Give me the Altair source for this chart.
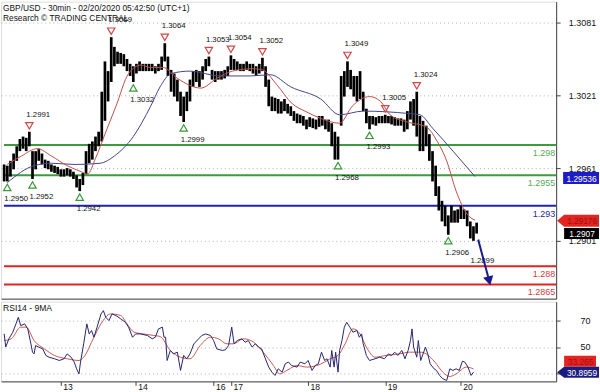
import altair as alt
import pandas as pd

FONT = "Liberation Sans"
FS = 9

# ---------------- data ----------------
title_lines = ["GBP/USD - 30min - 02/20/2020 05:42:50 (UTC+1)", "Research \u00a9 TRADING CENTRAL"]
rsi_title = "RSI14 - 9MA"

# every second 30-min bar (bar index 2, 4, ... 302): high / low prices
candle_hi = [
    1.2964, 1.2963, 1.2967, 1.2973, 1.2979, 1.2985, 1.2987, 1.2986, 1.2991, 1.2975,
    1.2975, 1.2977, 1.2973, 1.2968, 1.2967, 1.2964, 1.2963, 1.2962, 1.2960, 1.2960,
    1.2961, 1.2960, 1.2958, 1.2955, 1.2952, 1.2957, 1.2975, 1.2981, 1.2983, 1.2987,
    1.2991, 1.3024, 1.3049, 1.3041, 1.3069, 1.3061, 1.3057, 1.3056, 1.3055, 1.3051,
    1.3047, 1.3045, 1.3047, 1.3049, 1.3047, 1.3047, 1.3047, 1.3047, 1.3045, 1.3047,
    1.3053, 1.3064, 1.3053, 1.3042, 1.3039, 1.3034, 1.3024, 1.3020, 1.3024, 1.3034,
    1.3041, 1.3042, 1.3041, 1.3045, 1.3051, 1.3053, 1.3042, 1.3041, 1.3041, 1.3041,
    1.3042, 1.3045, 1.3054, 1.3051, 1.3049, 1.3047, 1.3047, 1.3049, 1.3047, 1.3047,
    1.3045, 1.3047, 1.3052, 1.3045, 1.3034, 1.3020, 1.3019, 1.3018, 1.3016, 1.3018,
    1.3014, 1.3012, 1.3008, 1.3006, 1.3005, 1.3004, 1.3001, 1.3003, 1.3002, 1.3001,
    1.3004, 1.3004, 1.3001, 1.3001, 1.2998, 1.2991, 1.2987, 1.3037, 1.3041, 1.3049,
    1.3042, 1.3037, 1.3037, 1.3041, 1.3024, 1.3010, 1.3004, 1.3004, 1.3003, 1.3004,
    1.3004, 1.3005, 1.3004, 1.3004, 1.3003, 1.3002, 1.3002, 1.3001, 1.3008, 1.3016,
    1.3018, 1.3024, 1.3004, 1.3000, 1.2996, 1.2989, 1.2975, 1.2963, 1.2946, 1.2934,
    1.2930, 1.2922, 1.2930, 1.2926, 1.2927, 1.2930, 1.2927, 1.2926, 1.2917, 1.2913,
    1.2916,
]
candle_lo = [
    1.2950, 1.2950, 1.2954, 1.2960, 1.2967, 1.2975, 1.2977, 1.2975, 1.2979, 1.2952,
    1.2960, 1.2967, 1.2964, 1.2961, 1.2960, 1.2958, 1.2957, 1.2956, 1.2954, 1.2954,
    1.2955, 1.2954, 1.2952, 1.2945, 1.2942, 1.2947, 1.2956, 1.2965, 1.2968, 1.2975,
    1.2979, 1.2983, 1.3000, 1.3016, 1.3032, 1.3045, 1.3047, 1.3047, 1.3045, 1.3041,
    1.3037, 1.3032, 1.3039, 1.3041, 1.3041, 1.3041, 1.3041, 1.3041, 1.3039, 1.3041,
    1.3042, 1.3049, 1.3037, 1.3024, 1.3020, 1.3016, 1.3004, 1.2999, 1.3008, 1.3016,
    1.3028, 1.3032, 1.3028, 1.3034, 1.3041, 1.3045, 1.3034, 1.3032, 1.3034, 1.3034,
    1.3035, 1.3037, 1.3042, 1.3042, 1.3042, 1.3041, 1.3041, 1.3042, 1.3041, 1.3039,
    1.3037, 1.3039, 1.3041, 1.3028, 1.3012, 1.3008, 1.3008, 1.3006, 1.3006, 1.3008,
    1.3006, 1.3004, 1.3000, 1.2998, 1.2998, 1.2996, 1.2993, 1.2995, 1.2994, 1.2993,
    1.2995, 1.2996, 1.2993, 1.2991, 1.2979, 1.2968, 1.2968, 1.2996, 1.3020, 1.3028,
    1.3026, 1.3020, 1.3016, 1.3018, 1.3008, 1.2998, 1.2993, 1.2997, 1.2996, 1.2998,
    1.2998, 1.2998, 1.2998, 1.2997, 1.2996, 1.2996, 1.2996, 1.2991, 1.2993, 1.3001,
    1.2996, 1.2987, 1.2975, 1.2975, 1.2979, 1.2967, 1.2950, 1.2938, 1.2926, 1.2917,
    1.2913, 1.2906, 1.2916, 1.2916, 1.2916, 1.2919, 1.2919, 1.2913, 1.2903, 1.2901,
    1.2907,
]
candle_bar = list(range(2, 2 + 2 * len(candle_hi), 2))

# moving averages on price
ma_fast_bar = [4, 13, 23, 32, 42, 51, 55, 60, 66, 73, 81, 89, 95, 103, 112, 127, 137, 147, 160, 166,
               175, 185, 193, 203, 215, 223, 234, 241, 247, 258, 270, 277, 283, 289, 296, 301]
ma_fast_val = [1.2964, 1.2971, 1.2977, 1.2971, 1.2963, 1.2958, 1.2956, 1.2969, 1.2989, 1.3012,
               1.3039, 1.3046, 1.3044, 1.3044, 1.3035, 1.3027, 1.3035, 1.3041, 1.3043, 1.3042,
               1.3030, 1.3014, 1.3008, 1.3002, 1.2998, 1.3012, 1.3020, 1.3016, 1.3005, 1.2999,
               1.2995, 1.2983, 1.2967, 1.2942, 1.2923, 1.2918]
ma_slow_bar = [4, 21, 32, 47, 63, 72, 84, 95, 101, 108, 120, 139, 158, 171, 184, 203, 215, 230,
               259, 266, 274, 287, 301]
ma_slow_val = [1.2949, 1.2963, 1.2965, 1.2964, 1.2965, 1.2971, 1.2987, 1.3012, 1.3028, 1.3039,
               1.3041, 1.3037, 1.3037, 1.3038, 1.3028, 1.3018, 1.3005, 1.3008, 1.3006, 1.3005,
               1.2994, 1.2975, 1.2954]

# pivot highs / lows
low_bar = [4, 20, 50, 84, 116, 214, 234, 284]
low_val = [1.2950, 1.2952, 1.2942, 1.3032, 1.2999, 1.2968, 1.2993, 1.2906]
high_bar = [18, 70, 104, 132, 146, 166, 220, 244, 264]
high_val = [1.2991, 1.3069, 1.3064, 1.3053, 1.3054, 1.3052, 1.3049, 1.3005, 1.3024]
proj_bar = [300]
proj_val = [1.2899]

# support / resistance levels
sr_level = [1.298, 1.2955, 1.293, 1.288, 1.2865]
sr_label = ["1.298", "1.2955", "1.293", "1.288", "1.2865"]
sr_color = ["#3d9a3d", "#3d9a3d", "#2222a8", "#e02424", "#e02424"]
sr_text_color = ["#5aaa5a", "#5aaa5a", "#2a2a90", "#d04040", "#d04040"]

# forecast arrow
arrow_bar = [303, 310]
arrow_val = [1.2902, 1.2868]

price_ticks = [1.2901, 1.2961, 1.3021, 1.3081]

# RSI(14) and its 9-period MA
rsi_bar = [
    2, 3, 5, 7.5, 9.5, 11, 12.5, 15, 17, 19,
    20, 21, 22, 24, 26.5, 28.5, 30.5, 34, 37, 40,
    42, 44.5, 46.5, 48, 49.5, 50.5, 52.5, 54.5, 56, 57.5,
    59, 61, 63.5, 65, 66.5, 68.5, 70.5, 73, 76, 79,
    81, 83.5, 85.5, 88.5, 93, 96, 98, 100, 102.5, 103.5,
    104.5, 105.5, 107.5, 109.5, 112, 114, 116, 118, 120, 122.5,
    125.5, 127.5, 130, 133, 135, 137, 140.5, 142.5, 144.5, 146.5,
    148, 150, 153, 155, 157, 159.5, 161.5, 163.5, 165.5, 167.5,
    170, 172, 174, 176, 178.5, 180.5, 182.5, 184.5, 188, 190,
    193, 195, 197.5, 199.5, 201.5, 203.5, 205.5, 207, 209, 210,
    211.5, 212.5, 214, 215, 216.5, 218, 219.5, 221.5, 223.5, 226,
    227.5, 229, 230, 232, 234, 237.5, 240.5, 243.5, 246, 248,
    250, 252, 254.5, 256.5, 258.5, 260, 261, 262, 264, 265,
    266.5, 268, 269.5, 271, 272.5, 275, 276.5, 278.5, 280.5, 283,
    285, 287, 289, 291, 293, 294.5, 296.5, 298.5, 300,
]
rsi_val = [
    60, 50, 56.2, 61.2, 67.5, 72.5, 66.2, 67.5, 63.7, 52.4,
    46.1, 44.8, 51.1, 49.9, 48.6, 43.6, 42.3, 41.1, 39.8, 41.1,
    44.8, 42.3, 38.6, 33.5, 29.7, 38.6, 52.4, 67.5, 59.9, 62.5,
    57.4, 65, 75, 77.5, 72.5, 70, 75, 73.8, 71.3, 68.7,
    65, 57.4, 59.9, 59.9, 58.7, 56.2, 57.4, 63.7, 65, 57.4,
    57.4, 39.8, 47.4, 44.8, 46.1, 32.3, 43.6, 41.1, 44.8, 52.4,
    56.2, 58.7, 59.9, 58.7, 54.9, 48.6, 47.4, 47.9, 51.1, 65,
    52.4, 54.9, 56.2, 53.6, 54.9, 49.9, 52.4, 49.9, 48.6, 42.3,
    34.8, 31, 28.5, 33.5, 31, 37.3, 38.6, 36, 34.8, 38.6,
    37.3, 39.8, 32.3, 36, 37.3, 46.1, 39.8, 41.1, 34.8, 47.4,
    34.8, 46.1, 31, 47.4, 54.9, 65, 68.7, 65, 61.2, 62.5,
    57.4, 59.9, 52.4, 43.6, 39.8, 41.1, 42.3, 41.1, 44.8, 43.6,
    46.1, 43.6, 47.4, 41.1, 47.4, 54.9, 63.7, 49.9, 42.3, 54.9,
    39.8, 44.8, 49.9, 44.8, 37.3, 33.5, 32.3, 28.5, 26, 24.7,
    33.5, 32.3, 33.5, 32.3, 39.3, 38.6, 34.8, 28.5, 31,
]
rsi_ma_bar = [2, 6.5, 12.5, 16, 21, 27.5, 34, 42, 49.5, 52.5,
              59, 63.5, 69.5, 76, 80, 84.5, 90.5, 97, 101, 107.5,
              114, 120, 126.5, 133, 138, 143.5, 147.5, 154, 160.5, 166.5,
              173, 177, 181.5, 188, 194, 200.5, 205.5, 209, 214, 218.5,
              223.5, 228, 232, 237.5, 244.5, 253, 259.5, 266, 270, 275.5,
              280.5, 285, 289, 295.5, 300]
rsi_ma_val = [54.9, 56.2, 65, 65, 54.9, 48.6, 43.6, 41.1, 39.8, 42.3,
              57.4, 67.5, 75, 73.8, 67.5, 61.2, 59.9, 58.7, 58, 47.4,
              42.3, 41.1, 51.1, 57.4, 56.2, 52.4, 52.4, 56.2, 53.6, 46.1,
              36, 29.7, 32.3, 36, 34.8, 36, 38.6, 41.1, 43.6, 52.4,
              63.7, 59.9, 49.9, 42.3, 43.6, 44.8, 46.1, 46.1, 44.8, 38.6,
              31, 27.7, 29.7, 34.8, 33.5]
rsi_ticks = [30, 50, 70]
rsi_labelled = [50, 70]

day_bar = [38, 85.5, 135, 146, 195, 244, 292]
day_label = ["13", "14", "16", "17", "18", "19", "20"]

# last values shown in the right-hand boxes
last_price_fast, last_price_fast_lbl = 1.29176, "1.29176"
last_price_slow, last_price_slow_lbl = 1.29536, "1.29536"
last_close, last_close_lbl = 1.2907, "1.2907"
last_rsi_ma, last_rsi_ma_lbl = 33.265, "33.265"
last_rsi, last_rsi_lbl = 30.8959, "30.8959"

# ---------------- layout / style ----------------
PLOT_W = 557
MAIN_H = 298
RSI_H = 80
AXIS_C = "#444444"
GRID_C = "#b4b4b4"
BOX_FS = 8.4
PIV_FS = 7.8

x_scale = alt.Scale(domain=[0, 352.5], nice=False, zero=False)
p_scale = alt.Scale(domain=[1.28533, 1.30983], nice=False, zero=False)
r_scale = alt.Scale(domain=[24.0, 84.3], nice=False, zero=False)

main_x_axis = alt.Axis(labels=False, ticks=False, domain=True, domainColor=AXIS_C,
                       grid=False, title=None)
rsi_x_axis = alt.Axis(
    values=day_bar,
    labelExpr=" : ".join(f"datum.value == {b} ? '{l}'" for b, l in zip(day_bar, day_label)) + " : ''",
    tickSize=4, tickColor=AXIS_C, domainColor=AXIS_C, grid=False, title=None,
    labelAlign="left", labelBaseline="top", labelPadding=-3, labelOffset=2,
    labelFontSize=8.6, labelColor="#111111", labelFont=FONT,
)
price_axis = alt.Axis(
    orient="right", values=price_ticks, format=".4f", grid=True, gridColor=GRID_C,
    gridDash=[1, 3], tickSize=4, tickColor=AXIS_C, domainColor=AXIS_C,
    labelAlign="center", labelPadding=22, labelFontSize=FS, labelColor="#111111",
    labelFont=FONT, title=None,
)
rsi_axis = alt.Axis(
    orient="right", values=rsi_ticks,
    labelExpr=" || ".join(f"datum.value == {v}" for v in rsi_labelled) + " ? datum.label : ''",
    grid=True, gridColor=GRID_C, gridDash=[1, 3],
    tickSize=4, tickColor=AXIS_C, domainColor=AXIS_C, labelAlign="center",
    labelPadding=25, labelFontSize=FS, labelColor="#111111", labelFont=FONT, title=None,
)


def XM(f):
    return alt.X(f"{f}:Q", scale=x_scale, axis=main_x_axis)


def YM(f):
    return alt.Y(f"{f}:Q", scale=p_scale, axis=price_axis)


def XR(f):
    return alt.X(f"{f}:Q", scale=x_scale, axis=rsi_x_axis)


def YR(f):
    return alt.Y(f"{f}:Q", scale=r_scale, axis=rsi_axis)


def value_box(value, label, fill, tcolor, left, right, yenc, tip=None, yoff=0, h=12):
    lm = tip if tip is not None else left
    cx = (lm + right) / 2
    hw = (right - lm) / 2

    def k(x):
        return (x - cx) / hw

    hy = (h / 2) / hw
    if tip is None:
        path = (f"M{k(left):.4f},{-hy:.4f}L{k(right):.4f},{-hy:.4f}"
                f"L{k(right):.4f},{hy:.4f}L{k(left):.4f},{hy:.4f}Z")
    else:
        path = (f"M{k(tip):.4f},0L{k(left):.4f},{-hy:.4f}L{k(right):.4f},{-hy:.4f}"
                f"L{k(right):.4f},{hy:.4f}L{k(left):.4f},{hy:.4f}Z")
    d = pd.DataFrame({"v": [value], "t": [label]})
    base = alt.Chart(d)
    box = base.mark_point(shape=path, size=(2 * hw) ** 2, filled=True, color=fill,
                          opacity=1, strokeWidth=0, yOffset=yoff).encode(
        x=alt.value(cx), y=yenc("v"))
    txt = base.mark_text(font=FONT, fontSize=BOX_FS, color=tcolor, align="center",
                         baseline="middle", dy=yoff + 0.5).encode(
        x=alt.value((left + right) / 2 + 0.5), y=yenc("v"), text="t:N")
    return [box, txt]


# ---------------- main price panel ----------------
cdf = pd.DataFrame({"bar": candle_bar, "hi": candle_hi, "lo": candle_lo})
fdf = pd.DataFrame({"bar": ma_fast_bar, "v": ma_fast_val})
sdf = pd.DataFrame({"bar": ma_slow_bar, "v": ma_slow_val})
srdf = pd.DataFrame({"level": sr_level, "label": sr_label, "c": sr_color, "tc": sr_text_color})
ldf = pd.DataFrame({"bar": low_bar, "v": low_val, "t": [f"{v:.4f}" for v in low_val]})
hdf = pd.DataFrame({"bar": high_bar, "v": high_val, "t": [f"{v:.4f}" for v in high_val]})
pdf_ = pd.DataFrame({"bar": proj_bar, "v": proj_val, "t": [f"{v:.4f}" for v in proj_val]})
adf = pd.DataFrame({"bar": arrow_bar, "v": arrow_val})
tdf = pd.DataFrame({"t": title_lines, "y": [6, 16]})

candles = alt.Chart(cdf).mark_rule(color="#000000", strokeWidth=2.7).encode(
    x=XM("bar"), y=YM("lo"), y2="hi")
ma_fast = alt.Chart(fdf).mark_line(color="#c0504a", strokeWidth=1, interpolate="monotone").encode(
    x=XM("bar"), y=YM("v"))
ma_slow = alt.Chart(sdf).mark_line(color="#44448a", strokeWidth=1, interpolate="monotone").encode(
    x=XM("bar"), y=YM("v"))
sr_lines = alt.Chart(srdf).mark_rule(strokeWidth=2).encode(
    y=YM("level"), color=alt.Color("c:N", scale=None),
    x=alt.value(3), x2=alt.value(PLOT_W))
sr_text = alt.Chart(srdf).mark_text(font=FONT, fontSize=FS, align="right", baseline="middle", dy=8).encode(
    y=YM("level"), text="label:N", color=alt.Color("tc:N", scale=None), x=alt.value(PLOT_W - 1))
low_tri = alt.Chart(ldf).mark_point(shape="triangle-up", filled=False, color="#3a9a3a", size=55,
                                    strokeWidth=1.2, opacity=1, yOffset=6).encode(x=XM("bar"), y=YM("v"))
low_txt = alt.Chart(pd.concat([ldf, pdf_])).mark_text(
    font=FONT, fontSize=PIV_FS, color="#111111", align="left", baseline="middle", dx=-3, dy=18).encode(
    x=XM("bar"), y=YM("v"), text="t:N")
high_tri = alt.Chart(hdf).mark_point(shape="triangle-down", filled=False, color="#d04848", size=55,
                                     strokeWidth=1.2, opacity=1, yOffset=-6).encode(x=XM("bar"), y=YM("v"))
high_txt = alt.Chart(hdf).mark_text(
    font=FONT, fontSize=PIV_FS, color="#111111", align="left", baseline="middle", dx=-3, dy=-17).encode(
    x=XM("bar"), y=YM("v"), text="t:N")
arrow_line = alt.Chart(adf).mark_line(color="#1a1a8c", strokeWidth=2).encode(x=XM("bar"), y=YM("v"))
arrow_head = alt.Chart(adf.tail(1)).mark_point(shape="triangle-up", angle=166, filled=True,
                                               color="#1a1a8c", opacity=1, size=110).encode(
    x=XM("bar"), y=YM("v"))
titles = alt.Chart(tdf).mark_text(font=FONT, fontSize=8.4, color="#111111", align="left",
                                  baseline="middle").encode(
    x=alt.value(2), y=alt.Y("y:Q", scale=None), text="t:N")

main_layers = [sr_lines, candles, ma_slow, ma_fast, sr_text, low_tri, low_txt, high_tri, high_txt,
               arrow_line, arrow_head, titles]
main_layers += value_box(last_price_slow, last_price_slow_lbl, "#1c1cc8", "#ffffff", 564, 600, YM, yoff=1)
main_layers += value_box(last_price_fast, last_price_fast_lbl, "#e42420", "#a01010", 565, 600, YM, tip=558)
main_layers += value_box(last_close, last_close_lbl, "#000000", "#ffffff", 565, 600, YM, h=11)

main = alt.layer(*main_layers).properties(width=PLOT_W, height=MAIN_H)

# ---------------- RSI panel ----------------
rdf = pd.DataFrame({"bar": rsi_bar, "v": rsi_val})
rmdf = pd.DataFrame({"bar": rsi_ma_bar, "v": rsi_ma_val})
rtdf = pd.DataFrame({"t": [rsi_title]})

rsi_line = alt.Chart(rdf).mark_line(color="#26266e", strokeWidth=1).encode(x=XR("bar"), y=YR("v"))
rsi_ma = alt.Chart(rmdf).mark_line(color="#c85a50", strokeWidth=1, interpolate="monotone").encode(
    x=XR("bar"), y=YR("v"))
rsi_t = alt.Chart(rtdf).mark_text(font=FONT, fontSize=8.6, color="#111111", align="left",
                                  baseline="middle").encode(x=alt.value(2), y=alt.value(6), text="t:N")
rsi_layers = [rsi_ma, rsi_line, rsi_t]
rsi_layers += value_box(last_rsi_ma, last_rsi_ma_lbl, "#e42420", "#a01010", 565, 597, YR, yoff=-8, h=11)
rsi_layers += value_box(last_rsi, last_rsi_lbl, "#1c1c80", "#ffffff", 565, 600, YR, tip=558, h=11)

rsi = alt.layer(*rsi_layers).properties(width=PLOT_W, height=RSI_H)

chart = alt.vconcat(main, rsi, spacing=1).properties(
    padding={"left": 0, "top": 0, "right": 0, "bottom": 0},
    background="#ffffff",
).configure_view(stroke=None).configure(font=FONT)

chart.save("out.html", embed_options={"renderer": "svg", "actions": False})
